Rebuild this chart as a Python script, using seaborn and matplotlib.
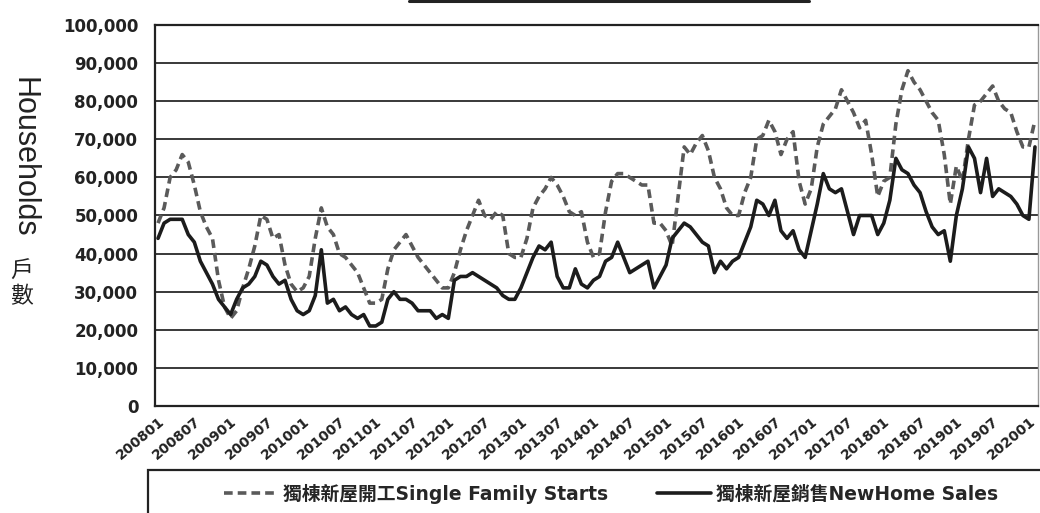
import matplotlib
matplotlib.use('Agg')
import matplotlib.pyplot as plt
from matplotlib.lines import Line2D
from matplotlib.patches import Rectangle
from matplotlib.ticker import FuncFormatter
import pandas as pd
import seaborn as sns

# monthly, 200801 .. 202002
months = pd.period_range('2008-01', '2020-02', freq='M').strftime('%Y%m').tolist()

# single family starts (thousand households)
starts = [48, 52, 60, 62, 66, 64, 58, 51, 47, 44, 33, 26,
          23, 25, 31, 36, 42, 50, 49, 44, 45, 37, 32, 30,
          31, 34, 44, 52, 47, 45, 40, 39, 37, 35, 31, 27,
          27, 28, 36, 41, 43, 45, 42, 39, 37, 35, 33, 31,
          31, 35, 41, 46, 50, 54, 50, 49, 51, 50, 40, 39,
          39, 44, 52, 55, 57, 60, 58, 55, 51, 50, 51, 43,
          39, 40, 51, 59, 61, 61, 60, 59, 58, 58, 48, 48,
          46, 42, 55, 68, 66, 69, 71, 67, 60, 57, 52, 50,
          50, 56, 60, 70, 71, 75, 72, 66, 70, 72, 59, 53,
          57, 68, 74, 76, 78, 83, 80, 77, 73, 75, 66, 55,
          59, 60, 74, 83, 88, 85, 83, 80, 77, 75, 66, 53,
          63, 59, 70, 79, 80, 82, 84, 80, 78, 77, 72, 68,
          68, 75]

# new home sales (thousand households)
sales = [44, 48, 49, 49, 49, 45, 43, 38, 35, 32, 28, 26,
         24, 28, 31, 32, 34, 38, 37, 34, 32, 33, 28, 25,
         24, 25, 29, 41, 27, 28, 25, 26, 24, 23, 24, 21,
         21, 22, 28, 30, 28, 28, 27, 25, 25, 25, 23, 24,
         23, 33, 34, 34, 35, 34, 33, 32, 31, 29, 28, 28,
         31, 35, 39, 42, 41, 43, 34, 31, 31, 36, 32, 31,
         33, 34, 38, 39, 43, 39, 35, 36, 37, 38, 31, 34,
         37, 44, 46, 48, 47, 45, 43, 42, 35, 38, 36, 38,
         39, 43, 47, 54, 53, 50, 54, 46, 44, 46, 41, 39,
         46, 53, 61, 57, 56, 57, 51, 45, 50, 50, 50, 45,
         48, 54, 65, 62, 61, 58, 56, 51, 47, 45, 46, 38,
         50, 57, 68, 65, 56, 65, 55, 57, 56, 55, 53, 50,
         49, 68]

name_starts = '獨棟新屋開工Single Family Starts'
name_sales = '獨棟新屋銷售NewHome Sales'

df = pd.DataFrame({'idx': range(len(months)),
                   name_starts: [v * 1000 for v in starts],
                   name_sales: [v * 1000 for v in sales]})
long = df.melt(id_vars='idx', var_name='series', value_name='value')

sns.set_style('white')
plt.rcParams['font.family'] = ['Liberation Sans', 'Noto Sans CJK TC', 'DejaVu Sans']
wide = ['DejaVu Sans', 'Noto Sans CJK TC']

fig = plt.figure(figsize=(10.4, 5.13), dpi=100)
ax = fig.add_axes([155 / 1040, 1 - 406 / 513, 883 / 1040, 381 / 513])

colors = {name_starts: '#5a5a5a', name_sales: '#1c1c1c'}
sns.lineplot(data=long, x='idx', y='value', hue='series', style='series',
             palette=colors, dashes={name_starts: (2.4, 1.4), name_sales: ''},
             linewidth=2.6, legend=False, ax=ax)

ax.set_xlim(-0.5, len(months) - 0.5)
ax.set_ylim(0, 100000)
ax.set_yticks(range(0, 100001, 10000))
ax.yaxis.set_major_formatter(FuncFormatter(lambda v, p: f'{v:,.0f}'))
ax.yaxis.grid(True, color='#2a2a2a', linewidth=1.3)
ax.set_xlabel('')
ax.set_ylabel('')

ax.set_xticks(range(0, len(months), 6))
ax.set_xticklabels(months[::6], rotation=40, ha='right', rotation_mode='anchor',
                   fontsize=10, fontweight='bold', color='#222', family=wide)
ax.set_xticks([k - 0.5 for k in range(6, len(months), 6)], minor=True)
ax.tick_params(axis='x', which='major', length=0, pad=6)
ax.tick_params(axis='x', which='minor', direction='in', length=5, width=1.2, color='#222')
ax.tick_params(axis='y', length=0, pad=12)
for t in ax.get_yticklabels():
    t.set_fontsize(12)
    t.set_fontweight('bold')
    t.set_family(wide)
    t.set_color('#222')

for side in ['left', 'bottom', 'top']:
    ax.spines[side].set_color('#222')
    ax.spines[side].set_linewidth(1.6)
ax.spines['right'].set_color('#999')
ax.spines['right'].set_linewidth(1.0)

# axis title
fig.text(23 / 1040, 1 - 157 / 513, 'Households', rotation=270, ha='center', va='center',
         fontsize=22, color='#222')
fig.text(22 / 1040, 1 - 284 / 513, '戶\n數', ha='center', va='center', fontsize=16.5,
         linespacing=1.15, color='#222', family=['Noto Sans CJK TC'])

# legend box (cut off at the bottom) and remains of the title box
fig.add_artist(Rectangle((148 / 1040, -0.05), 1.0, 0.05 + 1 - 470 / 513,
                         transform=fig.transFigure, fill=False, edgecolor='#222', lw=1.6))
fig.add_artist(Line2D([409 / 1040, 809 / 1040], [1 - 1 / 513] * 2,
                      transform=fig.transFigure, color='#222', lw=2.2))

handles = [Line2D([], [], color=colors[name_starts], lw=2.6, dashes=(2.4, 1.4)),
           Line2D([], [], color=colors[name_sales], lw=2.6)]
fig.legend(handles, [name_starts, name_sales], loc='center', ncol=2, frameon=False,
           bbox_to_anchor=(611 / 1040, 1 - 494 / 513),
           prop={'weight': 'bold', 'size': 13.5, 'family': wide},
           handlelength=2.9, columnspacing=2.6, handletextpad=0.27)

fig.savefig('out.png', dpi=100)
